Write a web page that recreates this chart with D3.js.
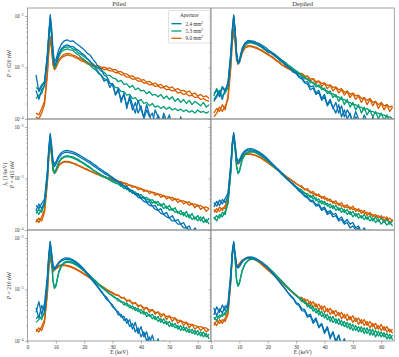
<!DOCTYPE html>
<html>
<head>
<meta charset="utf-8">
<script src="https://cdn.jsdelivr.net/npm/d3@7"></script>
<style>
body { margin: 0; background: #fff; }
text { font-family: "Liberation Serif", "DejaVu Serif", serif; fill: #333; }
</style>
</head>
<body>
<svg id="chart" width="399" height="357"></svg>
<script>
// energy grid (keV), values below are in units of 1e-4 /keV
var energies = [1,2,3,4,5,6,7, 7.5,8,8.5,9,9.5,
  10,11,12,13,14,15,16,17,18,19,20,
  21,22,23,24,25,26,27,28,29,30,31,
  32,33,34,35,36,37,38,39,40,41,42,
  43,44,45,46,47,48,49,50,51,52,53,
  54,55,56,57,58,59,60,61,62,63,64];

// ---- Piled, P = 620 nW
var pl620b1 = [null,null,7.2,3.4,4.3,5.1,18, 46,106,58,22,13,
  14,22,29,33,34.5,32,33,29.5,27,24.5,22,
  19,17.5,14.5,12.5,10.2,9.3,7.1,6.6,5.0,4.6,3.0,
  3.9,2.1,3.2,1.6,2.8,1.9,1.3,2.3,1.5,1.1,1.9,
  1.2,0.8,1.5,1.1,0.7,1.3,0.9,1.2,0.7,1.0,0.6,
  1.1,0.8,0.6,0.9,0.5,0.8,0.6,0.5,0.7,0.5,0.6];
var pl620b2 = [null,null,3.6,2.4,3.7,4.4,15, 40,92,50,18,11,
  12,18,23.5,26,27.5,26,25.5,23,21.5,19,17.5,
  15,13.5,11,9.8,8.1,7.0,5.4,6.0,4.1,4.9,2.9,
  3.6,2.4,2.9,1.8,2.5,1.5,2.1,1.3,1.8,1.0,1.5,
  1.1,1.3,0.8,1.2,0.9,1.1,0.7,1.0,0.8,0.6,0.9,
  0.6,0.8,0.5,0.7,0.6,0.5,0.6,0.4,0.6,0.5,0.4];
var pl620g1 = [null,null,4.1,3.7,4.6,5.4,17, 40,86,45,17,11,
  12,18.5,22,24.5,25,24.8,23,21.5,19.2,17.8,16,
  14.8,13,11.8,10.4,9.6,8.5,8.1,7.1,7.0,6.3,6.1,
  5.3,5.6,4.7,4.8,4.1,4.5,3.7,4.0,3.5,3.6,3.1,
  3.4,2.9,3.0,2.7,3.0,2.5,2.8,2.4,2.7,2.2,2.5,
  2.1,2.4,2.0,2.3,1.9,2.2,2.0,1.8,2.1,1.7,1.9];
var pl620g2 = [null,null,2.5,2.9,3.1,4.6,14, 35,75,40,15,10,
  11,16,20.5,22,23,22,21.5,19,17.5,15.5,14.2,
  12.4,11.2,9.7,9.0,7.7,7.1,6.1,5.7,4.9,4.7,4.1,
  4.0,3.4,3.4,2.9,3.0,2.5,2.6,2.2,2.4,2.0,2.1,
  1.8,2.0,1.7,1.8,1.6,1.75,1.55,1.7,1.5,1.6,1.45,
  1.55,1.4,1.5,1.35,1.45,1.3,1.5,1.35,1.4,1.3,1.4];
var pl620o1 = [null,null,1.3,1.2,1.6,2.2,8, 22,40,25,12,9.5,
  10.5,14.2,16.3,18.2,18.6,18.5,17.3,16.7,15.3,14.7,13.3,
  12.9,11.8,11.6,10.8,10.8,10.1,10.2,9.6,9.8,9.1,9.1,
  8.3,8.3,7.6,7.5,6.8,6.9,6.2,6.3,5.7,5.8,5.2,
  5.4,4.8,5.0,4.5,4.7,4.2,4.4,4.0,4.2,3.7,3.9,
  3.5,3.6,3.3,3.5,3.0,3.2,2.8,3.0,2.7,2.8,2.5];
var pl620o2 = [null,null,1.1,1.0,1.3,1.9,7, 20,36,22,11,9,
  9.8,13.2,15.6,16.6,17.6,17,16.7,15.3,14.7,13.4,12.9,
  11.8,11.5,10.6,10.5,9.8,9.8,9.1,9.2,8.6,8.6,7.9,
  7.9,7.2,7.2,6.5,6.5,5.9,6.0,5.4,5.5,5.0,5.0,
  4.6,4.7,4.3,4.4,4.0,4.1,3.7,3.8,3.5,3.6,3.2,
  3.3,3.0,3.1,2.8,2.9,2.6,2.7,2.4,2.5,2.3,2.2];

// ---- Depiled, P = 620 nW
var dp620b1 = [3.1,3.6,2.7,4.1,3.4,5.2,20, 55,105,55,20,13,
  14,24,30,33.5,33,32.5,30.5,29,27,25,22.5,
  20,18.5,16.5,15,13.2,12,10.6,9.6,8.6,7.9,6.8,
  6.4,5.2,5.3,4.2,4.4,3.2,3.6,2.5,3.0,1.9,2.4,
  1.6,2.1,1.3,1.8,1.1,1.5,1.2,0.9,1.4,1.0,0.8,
  1.2,0.9,0.7,1.1,0.8,0.9,0.6,0.8,0.9,0.6,0.7];
var dp620b2 = [2.2,2.7,3.3,2.4,3.9,4.4,17, 48,95,50,18,12,
  13,22,28.5,31,31.5,30,29.5,27,25.5,22.8,20.5,
  19.2,17.6,15.8,14.2,12.8,11.4,10.2,9.4,8.1,7.6,6.4,
  6.0,5.0,4.8,3.7,4.0,3.0,3.3,2.3,2.7,1.8,2.2,
  1.7,1.3,1.9,1.1,1.5,1.0,1.3,0.8,1.1,0.9,0.7,
  1.0,0.8,0.6,0.9,0.7,0.5,0.8,0.6,0.5,0.7,0.4];
var dp620g1 = [2.8,3.9,3.1,4.3,3.5,4.9,18, 50,98,52,19,12.5,
  13,23,29,31.5,32.2,31,29.6,27.4,25.6,22.9,21.1,
  20.5,18.8,17.2,15.4,14,12.8,11.4,10.4,9.5,8.6,7.9,
  7.0,6.6,5.8,5.5,4.9,4.7,4.2,4.1,3.6,3.5,3.1,
  3.1,2.7,2.7,2.4,2.4,2.1,2.1,1.9,1.9,1.7,1.7,
  1.5,1.6,1.4,1.4,1.3,1.3,1.2,1.2,1.1,1.1,1.0];
var dp620g2 = [2.4,2.9,3.6,2.8,3.2,4.1,15, 44,88,46,17,12,
  12.5,21,27,29.5,30.5,29.2,28,26.2,24.2,22,19.8,
  19.4,17.8,16.2,14.8,13.4,12.2,11,10,9.2,8.3,7.6,
  6.8,6.0,6.0,5.0,5.2,4.2,4.6,3.7,4.0,3.1,3.5,
  2.6,3.0,2.2,2.7,1.9,2.4,1.7,2.1,1.5,1.9,1.3,
  1.7,1.2,1.5,1.1,1.4,1.0,1.3,0.95,1.2,0.85,1.0];
var dp620o1 = [1.3,1.6,1.4,1.9,1.5,2.8,12, 35,56,35,16,12,
  13,20,25,26.5,26.2,25.3,24.6,22.8,21.7,19.8,18.6,
  16.8,15.7,13.8,12.9,11.3,10.8,9.6,9.5,8.5,8.6,7.7,
  7.7,6.9,6.8,6.0,6.1,5.3,5.5,4.9,5.0,4.5,4.6,
  4.1,4.2,3.7,3.9,3.3,3.5,3.0,3.2,2.8,2.9,2.5,
  2.6,2.3,2.5,2.1,2.2,1.9,2.1,1.8,1.9,1.7,1.8];
var dp620o2 = [1.1,1.3,1.7,1.4,1.8,2.4,10, 30,48,30,14,11.5,
  12.5,19,24,25.5,25.5,24.6,23.6,22.2,20.8,19.2,17.8,
  16.4,15,13.6,12.4,11.2,10.3,9.6,9.0,8.3,8.0,7.4,
  7.6,6.4,6.8,5.5,6.0,4.9,5.4,4.3,4.9,3.9,4.5,
  3.5,4.1,3.2,3.7,2.9,3.4,2.6,3.1,2.4,2.8,2.1,
  2.6,1.9,2.4,1.8,2.2,1.6,2.0,1.5,1.9,1.4,1.7];

// ---- Piled, P = 415 nW
var pl415b1 = [null,null,3.0,2.6,3.3,4.0,14, 40,75,45,22,19,
  21,27.5,32,34.5,35,34,33,31,29,27,25,
  23,21.5,19.5,18,16.2,15,13.6,12.6,11.4,10.5,9.6,
  8.6,8.2,7.2,7.0,6.0,5.9,5.0,5.0,4.1,4.3,3.5,
  3.5,2.9,3.0,2.4,2.6,2.0,2.2,1.7,1.9,1.5,1.6,
  1.3,1.4,1.1,1.2,0.9,1.1,0.9,0.8,1.0,0.7,0.8];
var pl415b2 = [null,null,2.4,3.2,2.6,3.6,12, 36,68,40,20,17,
  19,25,29.5,32,32.5,31.5,30.5,29,27,25,23.2,
  21.4,19.8,18,16.6,15.2,13.8,12.6,11.8,10.8,10,9.1,
  8.5,7.6,7.2,6.3,6.0,5.2,5.0,4.3,4.1,3.6,3.4,
  3.0,2.9,2.5,2.4,2.1,2.0,1.8,1.7,1.5,1.5,1.3,
  1.3,1.1,1.1,1.0,0.95,0.9,0.85,0.8,0.75,0.7,0.7];
var pl415g1 = [null,null,2.1,2.5,2.2,3.3,11, 32,60,35,16,13,
  15,21,25,27,27.8,27,26.2,24.6,23.2,21.2,19.8,
  18,16.6,15,13.8,12.8,11.8,11,10.4,9.6,9.1,8.4,
  7.9,7.0,7.2,6.1,6.3,5.2,5.5,4.6,4.9,4.1,4.3,
  3.7,3.9,3.3,3.6,2.9,3.3,2.6,3.0,2.4,2.7,2.1,
  2.4,1.9,2.3,1.7,2.1,1.6,1.9,1.5,1.8,1.4,1.7];
var pl415g2 = [null,null,2.5,2.0,2.6,3.0,10, 30,56,32,15,12.5,
  14,20,24,26,26.5,26,25,23.6,22,20.4,19,
  17.4,16,14.6,13.4,12.4,11.4,10.6,10,9.3,8.6,8.1,
  7.8,7.2,6.4,6.5,5.5,5.8,4.8,5.1,4.3,4.4,3.8,
  4.0,3.3,3.6,3.0,3.2,2.6,2.9,2.4,2.6,2.2,2.3,
  2.0,2.2,1.8,2.0,1.6,1.8,1.5,1.8,1.4,1.6,1.3];
var pl415o1 = [null,null,1.6,1.4,1.8,2.5,9, 28,50,30,15,13,
  14,18.2,20.4,21.6,21.4,21.1,19.9,19.2,17.9,17.1,15.9,
  15.2,14.1,13.5,12.5,12.1,11.3,11,10.4,10.3,9.7,9.5,
  8.9,8.7,8.1,8.0,7.4,7.3,6.8,6.7,6.2,6.1,5.7,
  5.7,5.3,5.3,4.9,4.9,4.5,4.5,4.2,4.3,3.9,4.0,
  3.6,3.7,3.4,3.5,3.1,3.2,2.9,3.0,2.7,2.8,2.6];
var pl415o2 = [null,null,1.4,1.7,1.5,2.2,8, 25,45,27,14,12.5,
  13.4,17.6,19.8,20.8,21,20.4,19.6,18.6,17.6,16.6,15.6,
  14.7,13.9,13.1,12.4,11.8,11.1,10.6,10.1,9.8,9.3,9.0,
  8.9,8.0,8.2,7.3,7.5,6.7,7.0,6.1,6.5,5.6,5.9,
  5.1,5.5,4.7,5.1,4.3,4.7,4.0,4.4,3.7,4.1,3.4,
  3.8,3.2,3.5,3.0,3.3,2.7,3.1,2.5,2.8,2.3,2.6];

// ---- Depiled, P = 415 nW
var dp415b1 = [3.4,2.9,3.8,3.2,4.1,5.2,20, 50,78,48,26,22,
  23,30,35,37.5,38,37,35,32.5,30,27,24,
  21,18.6,16.4,14.6,12.8,11.2,9.9,8.6,7.8,6.8,6.0,
  5.4,4.7,4.4,3.8,3.7,3.1,3.2,2.6,2.8,2.2,2.4,
  2.0,2.1,1.6,1.8,1.4,1.6,1.3,1.4,1.1,1.2,0.9,
  1.1,0.9,1.0,0.8,0.9,0.7,0.9,0.6,0.8,0.6,0.7];
var dp415b2 = [2.8,3.6,3.0,3.9,3.4,4.6,18, 46,72,44,24,20,
  21,28,33,35.5,36,35.2,33.4,31,28.4,25.8,23,
  20.2,17.8,15.8,14,12.3,10.8,9.5,8.4,7.4,6.6,5.7,
  5.2,4.5,4.2,3.6,3.5,2.9,3.0,2.4,2.6,2.0,2.2,
  1.8,1.9,1.5,1.6,1.3,1.4,1.1,1.2,1.0,1.1,0.8,
  1.0,0.8,0.9,0.7,0.8,0.6,0.8,0.6,0.7,0.5,0.6];
var dp415g1 = [1.6,1.9,1.7,2.2,2.0,3.5,15, 42,70,40,18,13,
  14,24,30,33,34,33.4,31.8,29.6,27.4,24.8,22.4,
  19.8,17.6,15.6,13.8,12.2,10.8,9.6,8.6,7.8,7.0,6.3,
  6.0,5.1,5.1,4.3,4.7,3.7,4.0,3.2,3.6,2.9,3.2,
  2.6,3.0,2.4,2.7,2.2,2.5,2.0,2.3,1.85,2.1,1.7,
  2.0,1.6,1.9,1.5,1.8,1.45,1.7,1.4,1.6,1.3,1.5];
var dp415g2 = [1.8,1.5,2.0,1.8,2.3,3.2,14, 40,66,38,17,12.5,
  13.5,23,29,32,33,32.4,31,28.8,26.6,24,21.8,
  19.4,17.2,15.2,13.6,12,10.7,9.5,8.5,7.7,6.9,6.2,
  5.5,5.4,4.6,4.7,4.0,4.2,3.4,3.7,3.1,3.3,2.7,
  3.0,2.4,2.7,2.2,2.5,2.0,2.3,1.8,2.1,1.7,1.9,
  1.6,1.8,1.5,1.7,1.4,1.6,1.3,1.5,1.25,1.4,1.2];
var dp415o1 = [2.5,2.2,2.8,2.4,3.0,4.0,16, 48,68,42,22,20,
  21,27,31,30.5,30,29.2,28,26.4,24.8,22.6,20.6,
  18.8,17,15.6,14,12.8,11.6,10.4,9.6,8.8,7.9,7.4,
  6.7,6.3,5.8,5.6,5.0,5.0,4.5,4.5,4.0,4.1,3.6,
  3.6,3.2,3.3,2.9,3.0,2.7,2.8,2.5,2.6,2.3,2.4,
  2.1,2.2,2.0,2.0,1.8,1.9,1.7,1.8,1.6,1.7,1.5];
var dp415o2 = [2.2,2.6,2.3,2.7,2.6,3.6,14, 44,62,40,21,19,
  20,26,29.5,29.8,29.4,28.6,27.4,25.8,24,22,20.2,
  18.4,16.8,15.2,13.8,12.6,11.4,10.4,9.5,8.7,8.0,7.3,
  7.2,6.0,6.4,5.2,5.6,4.6,5.0,4.1,4.5,3.7,4.0,
  3.3,3.7,3.0,3.4,2.7,3.1,2.5,2.9,2.3,2.6,2.1,
  2.4,1.9,2.2,1.8,2.0,1.7,1.9,1.5,1.8,1.4,1.6];

// ---- Piled, P = 210 nW
var pl210b1 = [null,null,3.6,5.8,3.2,5.4,18, 48,86,52,30,26,
  28,34,38,40.5,41,40,37.5,35,31.5,28,24.5,
  21,18,15.5,13,11,9.4,7.8,6.9,5.6,5.0,4.0,
  3.7,2.9,3.0,2.2,2.6,1.7,2.3,1.4,1.9,1.2,1.5,
  0.9,1.3,0.8,1.1,0.7,1.0,0.6,0.9,0.7,0.5,0.8,
  0.6,0.5,0.7,0.4,0.6,0.5,0.4,0.6,0.4,0.5,0.4];
var pl210b2 = [null,null,4.4,2.8,4.9,3.8,15, 44,80,48,28,24,
  26,32,36,38,39,38,36,33,30,26.6,23.2,
  20,17.2,14.6,12.4,10.6,8.9,7.6,6.3,5.7,4.6,4.2,
  3.2,3.3,2.5,2.7,1.9,2.2,1.5,1.8,1.2,1.5,1.0,
  1.2,0.8,1.0,0.7,0.9,0.6,0.8,0.5,0.7,0.5,0.6,
  0.4,0.6,0.5,0.4,0.5,0.4,0.5,0.3,0.5,0.4,0.3];
var pl210g1 = [null,null,2.7,3.1,2.6,3.8,14, 40,72,38,15,11,
  12,22,30,34,35.5,35,33.6,31.4,29,26.4,23.8,
  21.2,18.8,16.6,14.8,13,11.6,10.4,9.3,8.3,7.6,6.9,
  6.6,5.6,5.7,4.8,5.0,4.2,4.5,3.7,4.1,3.3,3.6,
  3.0,3.3,2.6,3.0,2.3,2.7,2.1,2.4,1.9,2.2,1.7,
  2.0,1.6,1.85,1.45,1.7,1.35,1.6,1.25,1.5,1.2,1.35];
var pl210g2 = [null,null,2.3,2.6,3.0,3.4,13, 38,68,36,14,10.5,
  11.5,21,28.5,32.5,34,33.4,32,30,27.6,25,22.6,
  20,17.8,15.8,14,12.4,11.1,10,9.0,8.1,7.4,6.8,
  6.0,6.0,5.0,5.5,4.4,4.8,3.9,4.3,3.4,3.8,3.0,
  3.3,2.7,3.0,2.4,2.7,2.2,2.4,1.9,2.2,1.8,2.0,
  1.6,1.9,1.5,1.7,1.4,1.6,1.3,1.5,1.2,1.4,1.1];
var pl210o1 = [null,null,1.7,1.5,1.9,2.6,9, 28,47,32,24,26,
  27,29,30.5,30.2,29.4,28.4,26.9,25.4,23.6,22,20.2,
  18.7,16.9,15.5,14.1,12.9,11.8,10.9,10,9.3,8.7,8.0,
  7.7,7.0,6.8,6.2,6.0,5.5,5.4,4.9,4.9,4.4,4.4,
  4.0,4.0,3.6,3.6,3.3,3.3,3.0,3.0,2.8,2.8,2.5,
  2.5,2.3,2.3,2.1,2.1,2.0,1.9,1.9,1.8,1.8,1.6];
var pl210o2 = [null,null,1.5,1.8,1.6,2.3,8, 25,43,30,22,24,
  25,27.5,29,29,28.4,27.4,26,24.6,22.9,21.3,19.6,
  18.1,16.5,15.1,13.8,12.6,11.5,10.6,9.8,9.0,8.4,7.8,
  7.8,6.8,7.0,5.9,6.3,5.2,5.6,4.6,5.0,4.0,4.5,
  3.6,4.1,3.3,3.7,2.9,3.4,2.6,3.1,2.4,2.8,2.2,
  2.5,2.0,2.3,1.8,2.1,1.7,1.9,1.6,1.8,1.5,1.7];

// ---- Depiled, P = 210 nW
var dp210b1 = [3.2,4.6,3.6,5.0,3.9,5.6,22, 55,85,50,30,27,
  29,36,40,42.5,43,41.8,39.6,36.6,33.4,30,26.6,
  23,19.8,17,14.4,12.2,10.4,8.8,7.4,6.6,5.3,4.9,
  3.9,3.8,2.9,3.1,2.2,2.6,1.8,2.1,1.4,1.8,1.1,
  1.5,0.9,1.3,0.8,1.1,0.7,1.0,0.6,0.9,0.5,0.8,
  0.6,0.5,0.7,0.4,0.6,0.5,0.4,0.6,0.4,0.5,0.3];
var dp210b2 = [4.4,3.1,4.2,3.5,4.8,4.4,19, 50,80,47,28,26,
  27.5,34,38.5,41,41.5,40.5,38.4,35.6,32.6,29.2,26,
  22.6,19.6,16.8,14.4,12.4,10.6,9.0,7.8,6.8,5.6,5.2,
  4.2,4.1,3.1,3.3,2.4,2.8,1.9,2.2,1.5,1.9,1.2,
  1.5,1.0,1.3,0.8,1.1,0.7,0.9,0.6,0.8,0.5,0.7,
  0.5,0.6,0.4,0.5,0.4,0.5,0.3,0.4,0.3,0.4,0.3];
var dp210g1 = [2.6,3.0,2.8,3.4,3.2,4.4,18, 48,80,40,16,12,
  13.5,24,32,37,39.5,39.6,38.4,36.2,33.6,30.6,27.6,
  24.4,21.6,19,16.6,14.6,12.8,11.2,9.9,8.8,7.8,7.0,
  6.6,5.4,5.4,4.3,4.6,3.5,4.0,3.0,3.4,2.6,3.0,
  2.3,2.7,2.1,2.5,1.9,2.3,1.7,2.1,1.6,1.9,1.5,
  1.8,1.4,1.7,1.3,1.6,1.25,1.5,1.2,1.4,1.1,1.3];
var dp210g2 = [2.9,2.5,3.2,3.0,3.6,4.0,17, 46,76,38,15,11.5,
  13,23,31,36,38.5,38.6,37.4,35.2,32.6,29.6,26.6,
  23.6,20.8,18.4,16.2,14.2,12.4,10.9,9.6,8.6,7.6,6.8,
  5.8,5.9,4.6,5.0,3.8,4.3,3.2,3.8,2.8,3.3,2.4,
  3.0,2.2,2.7,2.0,2.4,1.8,2.2,1.6,2.0,1.5,1.9,
  1.4,1.8,1.3,1.7,1.2,1.55,1.2,1.45,1.1,1.35,1.05];
var dp210o1 = [2.3,2.0,2.6,2.2,2.8,3.6,16, 50,76,46,30,30,
  32,37,40,41.4,41.2,39.6,37,34,30.6,27.4,24.4,
  22,19.6,17.4,15.4,13.6,12.2,10.8,9.6,8.6,7.8,7.0,
  7.0,6.0,6.4,5.1,5.8,4.6,5.2,4.1,4.8,3.7,4.3,
  3.4,3.9,3.1,3.6,2.8,3.3,2.6,3.1,2.4,2.8,2.2,
  2.6,2.0,2.4,1.9,2.2,1.7,2.1,1.6,1.9,1.5,1.7];
var dp210o2 = [2.0,2.5,2.2,2.6,2.4,3.3,14, 46,72,44,29,29,
  31,36,39,40.5,40.2,38.8,36.2,33.4,30,26.8,23.8,
  21.4,19,16.9,15,13.3,11.9,10.6,9.4,8.4,7.6,6.9,
  6.0,6.6,5.0,5.9,4.5,5.3,4.0,4.8,3.6,4.3,3.3,
  3.9,3.0,3.6,2.7,3.3,2.5,3.0,2.3,2.8,2.1,2.6,
  2.0,2.4,1.8,2.2,1.7,2.0,1.6,1.9,1.5,1.7,1.4];

var apertures = ["2.4", "5.3", "9.0"];
var colors = ["#0173B2", "#029E73", "#D55E00"];
var columnTitles = ["Piled", "Depiled"];
var powers = ["620", "415", "210"];
var xTicks = [0, 10, 20, 30, 40, 50, 60];
var yMajor = [1, 10, 100];
var yMajorLabels = ["\u22124", "\u22123", "\u22122"];

// [row][col] -> list of [series, colour index]; orange drawn first
var panels = [
  [[[pl620o1,2],[pl620o2,2],[pl620g1,1],[pl620g2,1],[pl620b1,0],[pl620b2,0]],
   [[dp620o1,2],[dp620o2,2],[dp620g1,1],[dp620g2,1],[dp620b1,0],[dp620b2,0]]],
  [[[pl415o1,2],[pl415o2,2],[pl415g1,1],[pl415g2,1],[pl415b1,0],[pl415b2,0]],
   [[dp415o1,2],[dp415o2,2],[dp415g1,1],[dp415g2,1],[dp415b1,0],[dp415b2,0]]],
  [[[pl210o1,2],[pl210o2,2],[pl210g1,1],[pl210g2,1],[pl210b1,0],[pl210b2,0]],
   [[dp210o1,2],[dp210o2,2],[dp210g1,1],[dp210g2,1],[dp210b1,0],[dp210b2,0]]]
];

var colX = [27.5, 211],
    rowY = [8, 119, 230],
    pw = 183.3,
    ph = 111;

var svg = d3.select("#chart");

var x = d3.scaleLinear().domain([0, 64.6]).range([0, pw]);
var y = d3.scaleLog().domain([1, 143]).range([ph, 0]);

var yMinor = [];
[1, 10, 100].forEach(function(d) {
  for (var k = 2; k <= 9; k++) if (d * k <= 143) yMinor.push(d * k);
});

var line = d3.line()
    .defined(function(d) { return d[1] != null; })
    .x(function(d) { return x(d[0]); })
    .y(function(d) { return y(d[1]); });

panels.forEach(function(rowPanels, r) {
  rowPanels.forEach(function(traces, c) {
    var g = svg.append("g")
        .attr("transform", "translate(" + colX[c] + "," + rowY[r] + ")");

    var clipId = "clip" + r + c;
    g.append("clipPath").attr("id", clipId)
      .append("rect").attr("width", pw).attr("height", ph);

    var lines = g.append("g").attr("clip-path", "url(#" + clipId + ")");
    traces.forEach(function(t) {
      var pts = energies.map(function(e, i) { return [e, t[0][i]]; });
      lines.append("path")
          .datum(pts)
          .attr("d", line)
          .attr("fill", "none")
          .attr("stroke", colors[t[1]])
          .attr("stroke-width", 1.3)
          .attr("stroke-linejoin", "round");
    });

    // minor + major y ticks
    var ym = g.append("g").call(d3.axisLeft(y).tickValues(yMinor).tickSize(1.5).tickFormat(""));
    ym.select(".domain").remove();
    ym.selectAll("line").attr("stroke", "#777").attr("stroke-width", 0.5);

    var yA = g.append("g").call(d3.axisLeft(y).tickValues(yMajor).tickSize(2.5).tickFormat(""));
    yA.select(".domain").remove();
    yA.selectAll("line").attr("stroke", "#777").attr("stroke-width", 0.6);

    if (c === 0) {
      var lab = g.append("g").selectAll("text")
          .data(yMajor)
          .enter().append("text")
          .attr("x", -4)
          .attr("y", function(d) { return y(d) + 1.8; })
          .attr("text-anchor", "end")
          .style("font-size", "5.2px");
      lab.append("tspan").text("10");
      lab.append("tspan")
          .attr("dy", -2)
          .style("font-size", "3.6px")
          .text(function(d, i) { return yMajorLabels[i]; });
    }

    if (r === 2) {
      var xA = g.append("g")
          .attr("transform", "translate(0," + ph + ")")
          .call(d3.axisBottom(x).tickValues(xTicks).tickSize(2.5).tickPadding(1.5));
      xA.select(".domain").remove();
      xA.selectAll("line").attr("stroke", "#777").attr("stroke-width", 0.6);
      xA.selectAll("text")
          .style("font-size", "5.2px")
          .style("font-family", "'Liberation Serif', serif")
          .attr("fill", "#333");
      g.append("text")
          .attr("x", pw / 2)
          .attr("y", ph + 13)
          .attr("text-anchor", "middle")
          .style("font-size", "5.6px")
          .text("E (keV)");
    }

    if (r === 0) {
      g.append("text")
          .attr("x", pw / 2)
          .attr("y", -2.2)
          .attr("text-anchor", "middle")
          .style("font-size", "6.6px")
          .attr("fill", "#555")
          .text(columnTitles[c]);
    }

    g.append("rect")
        .attr("width", pw)
        .attr("height", ph)
        .attr("fill", "none")
        .attr("stroke", "#8a8a8a")
        .attr("stroke-width", 0.8);
  });

  // row label
  var cy = rowY[r] + ph / 2;
  var lx = r === 1 ? 13.5 : 11;
  var t = svg.append("text")
      .attr("transform", "translate(" + lx + "," + cy + ") rotate(-90)")
      .attr("text-anchor", "middle")
      .style("font-size", "5.6px");
  t.append("tspan").style("font-style", "italic").text("P");
  t.append("tspan").text(" = " + powers[r] + " nW");

  if (r === 1) {
    var j = svg.append("text")
        .attr("transform", "translate(7," + cy + ") rotate(-90)")
        .attr("text-anchor", "middle")
        .style("font-size", "5.6px");
    j.append("tspan").style("font-style", "italic").text("J");
    j.append("tspan").attr("dy", 1.2).style("font-size", "4px").text("E");
    j.append("tspan").attr("dy", -1.2).text(" (1/keV)");
  }
});

// legend in the top-left panel
var lg = svg.append("g").attr("transform", "translate(" + (colX[0] + 141) + "," + (rowY[0] + 2.5) + ")");
lg.append("rect")
    .attr("width", 41.5)
    .attr("height", 32.5)
    .attr("rx", 1.5)
    .attr("fill", "#fff")
    .attr("fill-opacity", 0.85)
    .attr("stroke", "#ccc")
    .attr("stroke-width", 0.6);
lg.append("text")
    .attr("x", 20.75)
    .attr("y", 6.8)
    .attr("text-anchor", "middle")
    .style("font-size", "5.2px")
    .text("Aperture");
apertures.forEach(function(a, i) {
  var yy = 13.2 + i * 7.3;
  lg.append("line")
      .attr("x1", 3).attr("x2", 13)
      .attr("y1", yy).attr("y2", yy)
      .attr("stroke", colors[i])
      .attr("stroke-width", 1.3);
  var tx = lg.append("text")
      .attr("x", 17)
      .attr("y", yy + 1.8)
      .style("font-size", "5.2px");
  tx.append("tspan").text(a + " mm");
  tx.append("tspan").attr("dy", -2).style("font-size", "3.6px").text("2");
});
</script>
</body>
</html>
